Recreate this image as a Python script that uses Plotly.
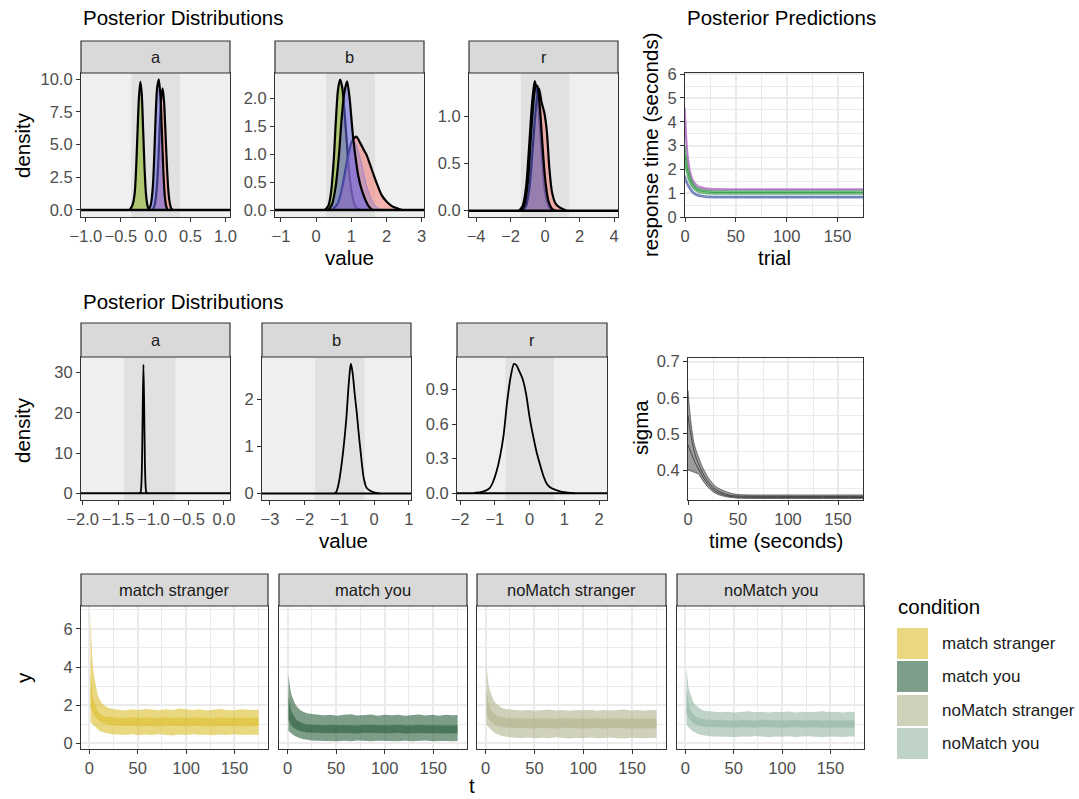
import plotly.graph_objects as go

W, H = 1079, 799
FONT = "Liberation Sans, Arial, sans-serif"

# ======================= DATA =======================
# --- Top row: posterior densities (value, density) ---
TA_RED_X = [-0.04, -0.01, 0.02, 0.04, 0.06, 0.08, 0.10, 0.12, 0.14, 0.16, 0.18, 0.20, 0.22, 0.24]
TA_RED_Y = [0, 0.5, 2.0, 4.0, 6.6, 8.6, 9.3, 8.3, 6.0, 3.5, 1.6, 0.6, 0.15, 0]
TA_BLUE_X = [-0.10, -0.07, -0.04, -0.02, 0.0, 0.02, 0.045, 0.07, 0.09, 0.11, 0.13, 0.15, 0.17]
TA_BLUE_Y = [0, 0.4, 1.8, 4.2, 7.2, 9.3, 10.0, 8.6, 5.8, 3.0, 1.1, 0.3, 0]
TA_GREEN_X = [-0.37, -0.33, -0.30, -0.28, -0.26, -0.24, -0.22, -0.20, -0.18, -0.16, -0.14, -0.12, -0.10, -0.08]
TA_GREEN_Y = [0, 0.4, 1.3, 3.2, 6.0, 8.6, 9.8, 8.9, 6.2, 3.3, 1.3, 0.4, 0.05, 0]

TB_RED_X = [0.45, 0.6, 0.7, 0.8, 0.9, 1.0, 1.1, 1.15, 1.25, 1.35, 1.43, 1.55, 1.65, 1.72, 1.85, 2.0, 2.15, 2.3, 2.45]
TB_RED_Y = [0, 0.1, 0.3, 0.6, 0.95, 1.2, 1.3, 1.31, 1.2, 1.08, 0.99, 0.78, 0.6, 0.48, 0.28, 0.15, 0.07, 0.03, 0]
TB_FAINT_X = [0.4, 0.6, 0.8, 0.9, 1.0, 1.05, 1.15, 1.3, 1.45, 1.6, 1.75, 1.9]
TB_FAINT_Y = [0, 0.15, 0.6, 0.95, 1.2, 1.25, 1.15, 0.8, 0.4, 0.15, 0.04, 0]
TB_BLUE_X = [0.35, 0.45, 0.55, 0.65, 0.72, 0.8, 0.88, 0.95, 1.05, 1.15, 1.2, 1.3, 1.4, 1.5, 1.6]
TB_BLUE_Y = [0, 0.1, 0.4, 1.0, 1.6, 2.1, 2.3, 2.0, 1.3, 0.8, 0.6, 0.35, 0.18, 0.06, 0]
TB_GREEN_X = [0.25, 0.35, 0.42, 0.5, 0.56, 0.62, 0.68, 0.74, 0.8, 0.86, 0.92, 1.0, 1.08, 1.15, 1.25]
TB_GREEN_Y = [0, 0.08, 0.3, 0.9, 1.6, 2.15, 2.33, 2.2, 1.8, 1.3, 0.8, 0.35, 0.12, 0.03, 0]

TR_RED_X = [-1.3, -1.1, -0.9, -0.7, -0.5, -0.35, -0.2, -0.05, 0.1, 0.25, 0.4, 0.6, 0.8, 1.0, 1.25]
TR_RED_Y = [0, 0.05, 0.25, 0.7, 1.15, 1.3, 1.15, 1.05, 0.85, 0.45, 0.2, 0.08, 0.04, 0.02, 0]
TR_BLUE_X = [-1.4, -1.2, -1.0, -0.85, -0.7, -0.55, -0.45, -0.3, -0.15, 0.0, 0.2, 0.4, 0.6]
TR_BLUE_Y = [0, 0.06, 0.3, 0.7, 1.1, 1.32, 1.33, 1.1, 0.7, 0.35, 0.1, 0.02, 0]
TR_GREEN_X = [-1.5, -1.3, -1.1, -0.9, -0.75, -0.6, -0.45, -0.3, -0.15, 0.0, 0.2, 0.4]
TR_GREEN_Y = [0, 0.05, 0.25, 0.75, 1.15, 1.38, 1.25, 0.9, 0.5, 0.2, 0.05, 0]

# --- Middle row: posterior densities ---
MA_X = [-1.20, -1.18, -1.17, -1.16, -1.15, -1.14, -1.13, -1.12, -1.11, -1.10, -1.08]
MA_Y = [0, 0.3, 2, 8, 22, 32, 22, 8, 2, 0.3, 0]
MB_X = [-1.15, -1.1, -1.05, -1.0, -0.95, -0.9, -0.85, -0.8, -0.75, -0.7, -0.67, -0.62, -0.56, -0.5,
        -0.45, -0.4, -0.35, -0.3, -0.22, -0.1, 0.05, 0.15]
MB_Y = [0, 0.02, 0.12, 0.3, 0.55, 0.85, 1.2, 1.6, 2.15, 2.6, 2.75, 2.55, 2.1, 1.7,
        1.3, 0.95, 0.6, 0.32, 0.12, 0.05, 0.01, 0]
MR_X = [-1.6, -1.4, -1.25, -1.15, -1.05, -0.95, -0.85, -0.75, -0.65, -0.55, -0.45, -0.38, -0.3, -0.2,
        -0.1, 0.0, 0.1, 0.2, 0.3, 0.4, 0.5, 0.6, 0.75, 0.9, 1.1, 1.3]
MR_Y = [0.003, 0.01, 0.025, 0.045, 0.1, 0.19, 0.32, 0.5, 0.78, 1.0, 1.12, 1.11, 1.06, 0.99,
        0.86, 0.66, 0.5, 0.36, 0.25, 0.15, 0.08, 0.05, 0.03, 0.015, 0.005, 0]

# --- Posterior predictions (trial, response time) ---
T_PRED = [0, 1, 2, 3, 4, 5, 6, 8, 10, 12, 15, 20, 25, 30, 40, 50, 100, 175]
PURPLE_1 = [4.6, 3.7, 3.0, 2.55, 2.2, 1.95, 1.78, 1.55, 1.42, 1.34, 1.27, 1.22, 1.2, 1.19, 1.18, 1.18, 1.18, 1.18]
PURPLE_2 = [4.0, 3.2, 2.65, 2.25, 1.98, 1.78, 1.63, 1.45, 1.34, 1.27, 1.21, 1.17, 1.15, 1.14, 1.14, 1.14, 1.14, 1.14]
GREEN_1 = [3.0, 2.6, 2.3, 2.05, 1.85, 1.7, 1.58, 1.41, 1.3, 1.23, 1.17, 1.13, 1.11, 1.1, 1.1, 1.1, 1.1, 1.1]
GREEN_2 = [2.6, 2.3, 2.05, 1.85, 1.7, 1.57, 1.47, 1.32, 1.22, 1.15, 1.1, 1.06, 1.04, 1.03, 1.03, 1.03, 1.03, 1.03]
GREEN_3 = [2.2, 1.95, 1.77, 1.62, 1.5, 1.4, 1.32, 1.2, 1.12, 1.06, 1.01, 0.98, 0.97, 0.96, 0.96, 0.96, 0.96, 0.96]
BLUE_1 = [1.75, 1.62, 1.5, 1.4, 1.32, 1.25, 1.18, 1.08, 1.0, 0.96, 0.92, 0.89, 0.88, 0.87, 0.87, 0.87, 0.87, 0.87]
BLUE_2 = [1.55, 1.45, 1.36, 1.27, 1.2, 1.14, 1.08, 0.99, 0.93, 0.89, 0.85, 0.82, 0.81, 0.8, 0.8, 0.8, 0.8, 0.8]

# --- Sigma over time ---
SIG_1 = [0.62, 0.585, 0.555, 0.53, 0.508, 0.49, 0.474, 0.455, 0.44, 0.425, 0.405, 0.38, 0.362, 0.35, 0.338, 0.332, 0.331, 0.331]
SIG_2 = [0.55, 0.53, 0.512, 0.495, 0.48, 0.466, 0.453, 0.435, 0.42, 0.407, 0.39, 0.368, 0.352, 0.342, 0.331, 0.328, 0.327, 0.327]
SIG_3 = [0.47, 0.462, 0.455, 0.448, 0.441, 0.434, 0.427, 0.415, 0.405, 0.395, 0.38, 0.36, 0.346, 0.337, 0.328, 0.325, 0.324, 0.324]
SIG_4 = [0.40, 0.399, 0.398, 0.397, 0.396, 0.395, 0.394, 0.392, 0.39, 0.383, 0.37, 0.352, 0.34, 0.332, 0.325, 0.322, 0.321, 0.321]

# --- Bottom row: predictive ribbons per condition (t, y) ---
T_RIB = [1, 2, 3, 4, 6, 8, 10, 13, 16, 20, 25, 30, 37, 44, 51, 58, 65, 72, 79, 86, 93, 100,
         107, 114, 121, 128, 135, 142, 149, 156, 163, 170, 175]
CONDITIONS = ["match stranger", "match you", "noMatch stranger", "noMatch you"]
MS_OUT_HI = [6.7, 5.2, 4.4, 3.8, 3.1, 2.65, 2.35, 2.1, 1.95, 1.85, 1.78, 1.75, 1.72, 1.78, 1.74, 1.80, 1.76,
             1.73, 1.79, 1.75, 1.82, 1.77, 1.74, 1.78, 1.72, 1.76, 1.80, 1.75, 1.73, 1.79, 1.76, 1.74, 1.77]
MS_OUT_LO = [1.1, 1.05, 0.98, 0.92, 0.82, 0.74, 0.67, 0.6, 0.55, 0.5, 0.47, 0.45, 0.44, 0.47, 0.42, 0.46, 0.43,
             0.48, 0.44, 0.41, 0.46, 0.44, 0.47, 0.43, 0.45, 0.42, 0.46, 0.44, 0.48, 0.43, 0.45, 0.44, 0.45]
MS_IN_HI = [3.6, 3.0, 2.6, 2.3, 1.95, 1.72, 1.58, 1.47, 1.41, 1.37, 1.35, 1.34, 1.33, 1.36, 1.32, 1.35, 1.34,
            1.31, 1.36, 1.33, 1.35, 1.32, 1.34, 1.36, 1.33, 1.31, 1.35, 1.34, 1.32, 1.36, 1.33, 1.34, 1.34]
MS_IN_LO = [1.9, 1.75, 1.62, 1.52, 1.38, 1.26, 1.17, 1.08, 1.02, 0.96, 0.93, 0.91, 0.9, 0.92, 0.89, 0.91, 0.9,
            0.88, 0.92, 0.9, 0.91, 0.89, 0.9, 0.92, 0.88, 0.9, 0.91, 0.89, 0.92, 0.9, 0.88, 0.91, 0.9]
MY_OUT_HI = [3.6, 3.1, 2.8, 2.55, 2.25, 2.05, 1.9, 1.75, 1.66, 1.58, 1.53, 1.5, 1.47, 1.5, 1.45, 1.49, 1.52,
             1.46, 1.48, 1.51, 1.45, 1.49, 1.47, 1.5, 1.44, 1.48, 1.51, 1.46, 1.49, 1.45, 1.5, 1.47, 1.48]
MY_OUT_LO = [0.65, 0.6, 0.55, 0.5, 0.43, 0.37, 0.32, 0.26, 0.22, 0.18, 0.15, 0.13, 0.12, 0.14, 0.1, 0.13, 0.11,
             0.15, 0.12, 0.1, 0.13, 0.12, 0.14, 0.11, 0.13, 0.1, 0.12, 0.14, 0.11, 0.13, 0.12, 0.1, 0.12]
MY_IN_HI = [2.45, 2.1, 1.85, 1.68, 1.45, 1.3, 1.2, 1.1, 1.04, 0.99, 0.97, 0.96, 0.95, 0.97, 0.94, 0.96, 0.95,
            0.93, 0.97, 0.95, 0.96, 0.94, 0.95, 0.97, 0.93, 0.95, 0.96, 0.94, 0.96, 0.95, 0.93, 0.95, 0.95]
MY_IN_LO = [1.22, 1.1, 1.0, 0.93, 0.83, 0.75, 0.7, 0.64, 0.6, 0.57, 0.55, 0.54, 0.53, 0.55, 0.52, 0.54, 0.53,
            0.51, 0.55, 0.53, 0.54, 0.52, 0.53, 0.55, 0.51, 0.53, 0.54, 0.52, 0.54, 0.53, 0.51, 0.53, 0.53]
NS_OUT_HI = [4.1, 3.5, 3.1, 2.85, 2.5, 2.28, 2.12, 1.98, 1.88, 1.8, 1.76, 1.74, 1.72, 1.75, 1.71, 1.74, 1.77,
             1.72, 1.74, 1.7, 1.75, 1.73, 1.76, 1.71, 1.74, 1.72, 1.75, 1.77, 1.72, 1.74, 1.71, 1.75, 1.73]
NS_OUT_LO = [0.96, 0.9, 0.84, 0.78, 0.68, 0.6, 0.53, 0.45, 0.4, 0.35, 0.31, 0.29, 0.28, 0.3, 0.26, 0.29, 0.27,
             0.31, 0.28, 0.25, 0.29, 0.27, 0.3, 0.26, 0.28, 0.3, 0.27, 0.25, 0.29, 0.28, 0.26, 0.29, 0.28]
NS_IN_HI = [2.7, 2.35, 2.1, 1.92, 1.72, 1.58, 1.5, 1.42, 1.38, 1.34, 1.32, 1.31, 1.3, 1.32, 1.29, 1.31, 1.3,
            1.28, 1.32, 1.3, 1.31, 1.29, 1.3, 1.32, 1.28, 1.3, 1.31, 1.29, 1.31, 1.3, 1.28, 1.3, 1.3]
NS_IN_LO = [1.5, 1.38, 1.28, 1.2, 1.1, 1.02, 0.96, 0.9, 0.86, 0.83, 0.81, 0.8, 0.79, 0.81, 0.78, 0.8, 0.79,
            0.77, 0.81, 0.79, 0.8, 0.78, 0.79, 0.81, 0.77, 0.79, 0.8, 0.78, 0.8, 0.79, 0.77, 0.79, 0.79]
NY_OUT_HI = [4.0, 3.4, 3.0, 2.75, 2.4, 2.18, 2.02, 1.88, 1.78, 1.71, 1.67, 1.65, 1.63, 1.66, 1.62, 1.65, 1.68,
             1.63, 1.65, 1.61, 1.66, 1.64, 1.67, 1.62, 1.65, 1.63, 1.66, 1.68, 1.63, 1.65, 1.62, 1.66, 1.64]
NY_OUT_LO = [0.96, 0.9, 0.85, 0.8, 0.7, 0.62, 0.56, 0.49, 0.44, 0.4, 0.37, 0.36, 0.35, 0.37, 0.33, 0.36, 0.34,
             0.38, 0.35, 0.32, 0.36, 0.34, 0.37, 0.33, 0.35, 0.37, 0.34, 0.32, 0.36, 0.35, 0.33, 0.36, 0.35]
NY_IN_HI = [2.8, 2.4, 2.1, 1.9, 1.65, 1.5, 1.42, 1.34, 1.29, 1.25, 1.23, 1.22, 1.21, 1.23, 1.2, 1.22, 1.21,
            1.19, 1.23, 1.21, 1.22, 1.2, 1.21, 1.23, 1.19, 1.21, 1.22, 1.2, 1.22, 1.21, 1.19, 1.21, 1.21]
NY_IN_LO = [1.57, 1.45, 1.35, 1.27, 1.15, 1.06, 1.0, 0.94, 0.9, 0.87, 0.85, 0.84, 0.83, 0.85, 0.82, 0.84, 0.83,
            0.81, 0.85, 0.83, 0.84, 0.82, 0.83, 0.85, 0.81, 0.83, 0.84, 0.82, 0.84, 0.83, 0.81, 0.83, 0.83]

# --- tick values / labels ---
TA_XT = [-1.0, -0.5, 0.0, 0.5, 1.0]; TA_YT = [0, 2.5, 5, 7.5, 10]
TB_XT = [-1, 0, 1, 2, 3];            TB_YT = [0, 0.5, 1.0, 1.5, 2.0]
TR_XT = [-4, -2, 0, 2, 4];           TR_YT = [0, 0.5, 1.0]
TP_XT = [0, 50, 100, 150];           TP_YT = [0, 1, 2, 3, 4, 5, 6]
MA_XT = [-2.0, -1.5, -1.0, -0.5, 0.0]; MA_YT = [0, 10, 20, 30]
MB_XT = [-3, -2, -1, 0, 1];          MB_YT = [0, 1, 2]
MR_XT = [-2, -1, 0, 1, 2];           MR_YT = [0, 0.3, 0.6, 0.9]
MS_XT = [0, 50, 100, 150];           MS_YT = [0.4, 0.5, 0.6, 0.7]
BT_XT = [0, 50, 100, 150];           BT_YT = [0, 2, 4, 6]

# ======================= LAYOUT HELPERS =======================
def fx(p): return p / W
def fy(p): return 1 - p / H

TICK_FONT = dict(family=FONT, size=16.5, color="#4D4D4D")
BORDER = "#333333"

# name: (x0, x1, ytop, ybottom) in pixels
PANELS = [
    ("ta", 81, 230, 73, 217), ("tb", 275, 424, 73, 217), ("tr", 469, 618, 73, 217),
    ("tp", 685, 863, 73, 217),
    ("ma", 81, 230, 357, 500), ("mb", 262, 411, 357, 500), ("mr", 457, 607, 357, 500),
    ("ms", 688, 863, 358, 500),
    ("b1", 81, 268, 606, 749), ("b2", 279, 467, 606, 749), ("b3", 477, 666, 606, 749),
    ("b4", 677, 864, 606, 749),
]
IDX = {p[0]: i + 1 for i, p in enumerate(PANELS)}

def refs(name):
    i = IDX[name]
    return ("x" if i == 1 else f"x{i}"), ("y" if i == 1 else f"y{i}")

fig = go.Figure()
layout = dict(width=W, height=H, margin=dict(l=0, r=0, t=0, b=0, autoexpand=False),
              paper_bgcolor="white", plot_bgcolor="white", showlegend=False,
              font=dict(family=FONT))
shapes, annos = [], []

def fmt(v, d):
    s = f"{v:.{d}f}"
    return s.replace("-", "\u2212")

def set_axes(name, xr, yr, xt, yt, xd, yd, grid=False, xminor=None, yminor=None, ylabels=True):
    i = IDX[name]
    _, x0, x1, yt_px, yb_px = PANELS[i - 1]
    xk = "xaxis" if i == 1 else f"xaxis{i}"
    yk = "yaxis" if i == 1 else f"yaxis{i}"
    xa, ya = refs(name)
    common = dict(showline=True, mirror=True, linecolor=BORDER, linewidth=1.2,
                  ticks="outside", ticklen=4, tickcolor=BORDER, tickwidth=1,
                  tickfont=TICK_FONT, zeroline=False, tickangle=0, fixedrange=True,
                  automargin=False,
                  showgrid=grid, gridcolor="#EBEBEB", gridwidth=1.6, layer="above traces")
    xaxis = dict(common, domain=[fx(x0), fx(x1)], anchor=ya, range=xr,
                 tickmode="array", tickvals=xt, ticktext=[fmt(v, xd) for v in xt])
    yaxis = dict(common, domain=[fy(yb_px), fy(yt_px)], anchor=xa, range=yr,
                 tickmode="array", tickvals=yt, ticktext=[fmt(v, yd) for v in yt])
    if xminor is not None:
        xaxis["minor"] = dict(tickmode="array", tickvals=xminor, showgrid=True,
                              gridcolor="#EBEBEB", gridwidth=1.0, ticks="")
    if yminor is not None:
        yaxis["minor"] = dict(tickmode="array", tickvals=yminor, showgrid=True,
                              gridcolor="#EBEBEB", gridwidth=1.0, ticks="")
    if not ylabels:
        yaxis["showticklabels"] = False
        yaxis["ticks"] = ""
    layout[xk] = xaxis
    layout[yk] = yaxis

def density_bg(name, band):
    xa, ya = refs(name)
    shapes.append(dict(type="rect", xref=f"{xa} domain", yref=f"{ya} domain",
                       x0=0, x1=1, y0=0, y1=1, fillcolor="#EFEFEF", line_width=0, layer="below"))
    shapes.append(dict(type="rect", xref=xa, yref=f"{ya} domain",
                       x0=band[0], x1=band[1], y0=0, y1=1, fillcolor="#E1E1E1",
                       line_width=0, layer="below"))

def zero_line(name, w):
    xa, ya = refs(name)
    shapes.append(dict(type="line", xref=f"{xa} domain", yref=ya, x0=0, x1=1, y0=0, y1=0,
                       line=dict(color="black", width=w), layer="above"))

def strip(name, label, top, bottom):
    _, x0, x1, _, _ = PANELS[IDX[name] - 1]
    shapes.append(dict(type="rect", xref="paper", yref="paper", x0=fx(x0), x1=fx(x1),
                       y0=fy(bottom), y1=fy(top), fillcolor="#D9D9D9",
                       line=dict(color=BORDER, width=1.2), layer="above"))
    annos.append(dict(text=label, xref="paper", yref="paper", x=fx((x0 + x1) / 2),
                      y=fy((top + bottom) / 2), xanchor="center", yanchor="middle",
                      showarrow=False, font=dict(family=FONT, size=16.5, color="#1A1A1A")))

def text(t, x, y, size, anchor="center", angle=0, color="black"):
    annos.append(dict(text=t, xref="paper", yref="paper", x=fx(x), y=fy(y),
                      xanchor=anchor, yanchor="middle", showarrow=False, textangle=angle,
                      font=dict(family=FONT, size=size, color=color)))

def dens(name, xs, ys, fill, lw=2.2, line_color="black"):
    xa, ya = refs(name)
    fig.add_trace(go.Scatter(x=xs, y=ys, mode="lines", xaxis=xa, yaxis=ya,
                             line=dict(color=line_color, width=lw, shape="spline", smoothing=0.7),
                             fill="tozeroy" if fill else None, fillcolor=fill,
                             hoverinfo="skip"))

def line(name, xs, ys, color, width=1.2, fill=None, fillcolor=None):
    xa, ya = refs(name)
    fig.add_trace(go.Scatter(x=xs, y=ys, mode="lines", xaxis=xa, yaxis=ya,
                             line=dict(color=color, width=width, shape="spline", smoothing=0.6),
                             fill=fill, fillcolor=fillcolor, hoverinfo="skip"))

def ribbon(name, xs, lo, hi, color):
    xa, ya = refs(name)
    fig.add_trace(go.Scatter(x=xs, y=lo, mode="lines", xaxis=xa, yaxis=ya,
                             line=dict(width=0, color=color), hoverinfo="skip"))
    fig.add_trace(go.Scatter(x=xs, y=hi, mode="lines", xaxis=xa, yaxis=ya,
                             line=dict(width=0, color=color), fill="tonexty",
                             fillcolor=color, hoverinfo="skip"))

RED = "rgba(248,118,109,0.5)"
GREEN = "rgba(124,174,0,0.5)"
BLUE = "rgba(100,100,228,0.55)"

# ======================= TOP ROW =======================
set_axes("ta", [-1.07, 1.065], [-0.54, 10.48], TA_XT, TA_YT, 1, 1)
set_axes("tb", [-1.17, 3.065], [-0.125, 2.45], TB_XT, TB_YT, 0, 1)
set_axes("tr", [-4.41, 4.23], [-0.067, 1.465], TR_XT, TR_YT, 0, 1)
density_bg("ta", [-0.35, 0.35]); density_bg("tb", [0.28, 1.67]); density_bg("tr", [-1.40, 1.41])

dens("ta", TA_GREEN_X, TA_GREEN_Y, GREEN)
dens("ta", TA_RED_X, TA_RED_Y, RED)
dens("ta", TA_BLUE_X, TA_BLUE_Y, BLUE)

dens("tb", TB_GREEN_X, TB_GREEN_Y, GREEN)
dens("tb", TB_RED_X, TB_RED_Y, RED)
dens("tb", TB_FAINT_X, TB_FAINT_Y, "rgba(100,100,228,0.28)", lw=1, line_color="rgba(100,100,228,0.45)")
dens("tb", TB_BLUE_X, TB_BLUE_Y, BLUE)

dens("tr", TR_GREEN_X, TR_GREEN_Y, GREEN)
dens("tr", TR_RED_X, TR_RED_Y, RED)
dens("tr", TR_BLUE_X, TR_BLUE_Y, BLUE)

for n in ("ta", "tb", "tr"):
    zero_line(n, 2.6)
strip("ta", "a", 41, 73); strip("tb", "b", 41, 73); strip("tr", "r", 41, 73)

# Posterior predictions
set_axes("tp", [0, 175], [0, 6.05], TP_XT, TP_YT, 0, 0, grid=True,
         xminor=[25, 75, 125, 175], yminor=[0.5, 1.5, 2.5, 3.5, 4.5, 5.5])
line("tp", T_PRED, PURPLE_1, "rgba(175,105,195,0.8)", 1.5)
line("tp", T_PRED, PURPLE_2, "rgba(175,105,195,0.8)", 1.5)
line("tp", T_PRED, GREEN_3, "rgba(60,160,80,0.7)", 1.2)
line("tp", T_PRED, GREEN_1, "rgba(60,160,80,0.7)", 1.2, fill="tonexty", fillcolor="rgba(80,180,100,0.6)")
line("tp", T_PRED, GREEN_2, "rgba(40,140,60,0.7)", 1.2)
line("tp", T_PRED, BLUE_2, "rgba(80,100,170,0.75)", 1.2)
line("tp", T_PRED, BLUE_1, "rgba(80,100,170,0.75)", 1.2, fill="tonexty", fillcolor="rgba(110,130,195,0.6)")

# ======================= MIDDLE ROW =======================
set_axes("ma", [-2.024, 0.085], [-1.67, 33.9], MA_XT, MA_YT, 1, 0)
set_axes("mb", [-3.23, 1.06], [-0.14, 2.89], MB_XT, MB_YT, 0, 0)
set_axes("mr", [-2.09, 2.23], [-0.058, 1.18], MR_XT, MR_YT, 0, 1)
density_bg("ma", [-1.415, -0.69]); density_bg("mb", [-1.70, -0.28]); density_bg("mr", [-0.69, 0.70])
dens("ma", MA_X, MA_Y, None, lw=1.8)
dens("mb", MB_X, MB_Y, None, lw=1.8)
dens("mr", MR_X, MR_Y, None, lw=1.8)
for n in ("ma", "mb", "mr"):
    zero_line(n, 2.0)
strip("ma", "a", 323, 357); strip("mb", "b", 323, 357); strip("mr", "r", 323, 357)

set_axes("ms", [0, 175], [0.317, 0.71], MS_XT, MS_YT, 0, 1, grid=True,
         xminor=[25, 75, 125, 175], yminor=[0.35, 0.45, 0.55, 0.65])
line("ms", T_PRED, SIG_4, "rgba(40,40,40,0.6)", 1.0)
line("ms", T_PRED, SIG_1, "rgba(40,40,40,0.6)", 1.0, fill="tonexty", fillcolor="rgba(60,60,60,0.5)")
line("ms", T_PRED, SIG_2, "rgba(30,30,30,0.7)", 1.0)
line("ms", T_PRED, SIG_3, "rgba(30,30,30,0.7)", 1.0)

# ======================= BOTTOM ROW =======================
COND_COLORS = ["rgba(220,190,43,0.6)", "rgba(40,93,58,0.6)",
               "rgba(177,178,140,0.6)", "rgba(148,182,163,0.6)"]
RIBBONS = [(MS_OUT_LO, MS_OUT_HI, MS_IN_LO, MS_IN_HI),
           (MY_OUT_LO, MY_OUT_HI, MY_IN_LO, MY_IN_HI),
           (NS_OUT_LO, NS_OUT_HI, NS_IN_LO, NS_IN_HI),
           (NY_OUT_LO, NY_OUT_HI, NY_IN_LO, NY_IN_HI)]
for k, name in enumerate(["b1", "b2", "b3", "b4"]):
    set_axes(name, [-8.75, 184.75], [-0.3, 7.2], BT_XT, BT_YT, 0, 0, grid=True,
             xminor=[25, 75, 125, 175], yminor=[1, 3, 5, 7], ylabels=(k == 0))
    olo, ohi, ilo, ihi = RIBBONS[k]
    ribbon(name, T_RIB, olo, ohi, COND_COLORS[k])
    ribbon(name, T_RIB, ilo, ihi, COND_COLORS[k])
    strip(name, CONDITIONS[k], 574, 606)

# Legend
text("condition", 896, 606, 20.5, anchor="left")
KEY_Y = [(628, 659), (661, 692), (695, 726), (728, 759)]
for k, (a, b) in enumerate(KEY_Y):
    shapes.append(dict(type="rect", xref="paper", yref="paper", x0=fx(897), x1=fx(928),
                       y0=fy(b), y1=fy(a), fillcolor=COND_COLORS[k], line_width=0))
    text(CONDITIONS[k], 940, (a + b) / 2, 17, anchor="left", color="#1A1A1A")

# ======================= TITLES =======================
text("Posterior Distributions", 81, 17, 20.5, anchor="left")
text("Posterior Predictions", 685, 17, 20.5, anchor="left")
text("Posterior Distributions", 81, 301, 20.5, anchor="left")
text("density", 22, 145, 20.5, angle=-90)
text("value", 349, 257, 20.5)
text("response time (seconds)", 650, 145, 20.5, angle=-90)
text("trial", 774, 257, 20.5)
text("density", 22, 430, 20.5, angle=-90)
text("value", 343, 540, 20.5)
text("sigma", 640, 428, 20.5, angle=-90)
text("time (seconds)", 776, 540, 20.5)
text("y", 23, 678, 20.5, angle=-90)
text("t", 472, 785, 20.5)

layout["shapes"] = shapes
layout["annotations"] = annos
fig.update_layout(**layout)
fig.write_html("out.html")
